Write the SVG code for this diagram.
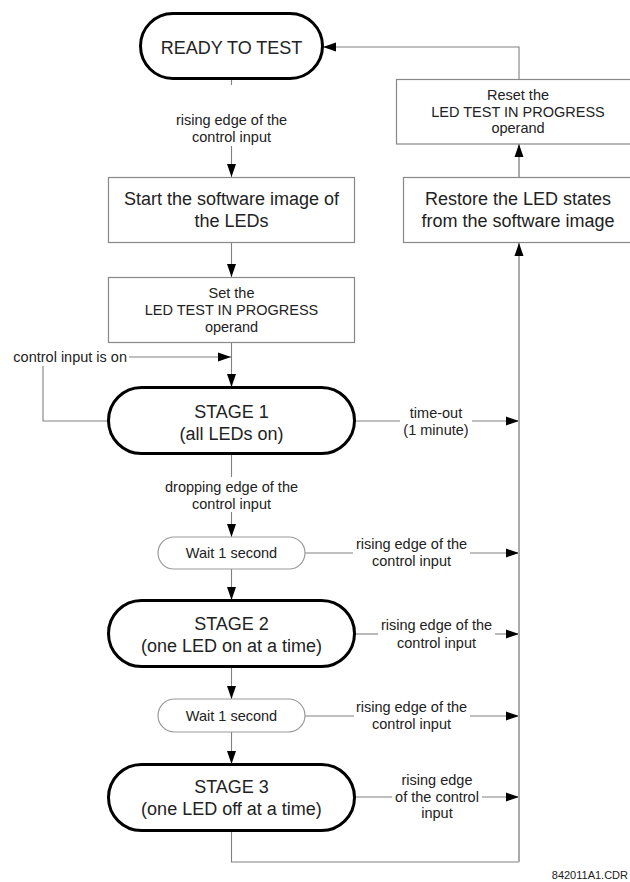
<svg xmlns="http://www.w3.org/2000/svg" width="630" height="882" viewBox="0 0 630 882">
<style>
text{font-family:"Liberation Sans",Arial,sans-serif;fill:#222;text-anchor:middle}
.big{font-size:18px}
.sm{font-size:14.5px}
.pill{fill:#fff;stroke:#000;stroke-width:3}
.box{fill:#fff;stroke:#888;stroke-width:1.2}
.wait{fill:#fff;stroke:#999;stroke-width:1.2}
.ln{fill:none;stroke:#808080;stroke-width:1.1}
.bus{fill:none;stroke:#aaa;stroke-width:2}
</style>
<defs>
<marker id="ah" markerUnits="userSpaceOnUse" markerWidth="13" markerHeight="10" refX="13" refY="5" orient="auto">
<path d="M0,0.5 L13,5 L0,9.5 z" fill="#000"/>
</marker>
</defs>
<rect width="630" height="882" fill="#fff"/>
<g id="connectors">
<line class="ln" x1="231.5" y1="79" x2="231.5" y2="85"/>
<line class="ln" x1="231.5" y1="146" x2="231.5" y2="177" marker-end="url(#ah)"/>
<line class="ln" x1="231.5" y1="243" x2="231.5" y2="277" marker-end="url(#ah)"/>
<line class="ln" x1="231.5" y1="343" x2="231.5" y2="387" marker-end="url(#ah)"/>
<line class="ln" x1="129" y1="357" x2="231" y2="357" marker-end="url(#ah)"/>
<polyline class="ln" points="43,366 43,421 108,421"/>
<line class="ln" x1="355" y1="421" x2="400" y2="421"/>
<line class="ln" x1="472" y1="421" x2="519" y2="421" marker-end="url(#ah)"/>
<line class="ln" x1="231.5" y1="454" x2="231.5" y2="477"/>
<line class="ln" x1="231.5" y1="512" x2="231.5" y2="537" marker-end="url(#ah)"/>
<line class="ln" x1="305" y1="553" x2="353" y2="553"/>
<line class="ln" x1="470" y1="553" x2="519" y2="553" marker-end="url(#ah)"/>
<line class="ln" x1="231.5" y1="569" x2="231.5" y2="600" marker-end="url(#ah)"/>
<line class="ln" x1="355" y1="634" x2="378" y2="634"/>
<line class="ln" x1="495" y1="634" x2="519" y2="634" marker-end="url(#ah)"/>
<line class="ln" x1="231.5" y1="667" x2="231.5" y2="699" marker-end="url(#ah)"/>
<line class="ln" x1="305" y1="716" x2="354" y2="716"/>
<line class="ln" x1="470" y1="716" x2="519" y2="716" marker-end="url(#ah)"/>
<line class="ln" x1="231.5" y1="732" x2="231.5" y2="764" marker-end="url(#ah)"/>
<line class="ln" x1="355" y1="797" x2="392" y2="797"/>
<line class="ln" x1="482" y1="797" x2="519" y2="797" marker-end="url(#ah)"/>
<polyline class="ln" points="231.5,831 231.5,862 519,862"/>
<polyline class="bus" points="519,862 519,243" marker-end="url(#ah)"/>
<line class="bus" x1="519" y1="177" x2="519" y2="144" marker-end="url(#ah)"/>
<polyline class="ln" points="519,79 519,47 323,47" marker-end="url(#ah)"/>
<text class="sm" x="231.5" y="125">rising edge of the</text>
<text class="sm" x="231.5" y="142">control input</text>
<text class="sm" x="127" y="362" style="text-anchor:end">control input is on</text>
<text class="sm" x="436" y="418">time-out</text>
<text class="sm" x="436" y="435">(1 minute)</text>
<text class="sm" x="231.5" y="492">dropping edge of the</text>
<text class="sm" x="231.5" y="509">control input</text>
<text class="sm" x="411.5" y="549">rising edge of the</text>
<text class="sm" x="411.5" y="566">control input</text>
<text class="sm" x="436.5" y="630">rising edge of the</text>
<text class="sm" x="436.5" y="648">control input</text>
<text class="sm" x="411.5" y="712">rising edge of the</text>
<text class="sm" x="411.5" y="729">control input</text>
<text class="sm" x="437" y="785">rising edge</text>
<text class="sm" x="437" y="802">of the control</text>
<text class="sm" x="437" y="818">input</text>
</g>
<g id="ready">
<rect class="pill" x="140.5" y="13.5" width="182" height="65" rx="32.5"/>
<text class="big" x="231.5" y="53.5">READY TO TEST</text>
</g>
<g id="start">
<rect class="box" x="108.5" y="177.5" width="246" height="65"/>
<text class="big" x="231.5" y="205">Start the software image of</text>
<text class="big" x="231.5" y="227">the LEDs</text>
</g>
<g id="set">
<rect class="box" x="108.5" y="277.5" width="246" height="65"/>
<text class="sm" x="231.5" y="298">Set the</text>
<text class="sm" x="231.5" y="315">LED TEST IN PROGRESS</text>
<text class="sm" x="231.5" y="332">operand</text>
</g>
<g id="stage1">
<rect class="pill" x="108.5" y="387.5" width="246" height="66" rx="33"/>
<text class="big" x="231.5" y="417.5">STAGE 1</text>
<text class="big" x="231.5" y="439.5">(all LEDs on)</text>
</g>
<g id="wait1">
<rect class="wait" x="158" y="537" width="147" height="32" rx="16"/>
<text class="sm" x="231.5" y="558">Wait 1 second</text>
</g>
<g id="stage2">
<rect class="pill" x="108.5" y="600.5" width="246" height="66" rx="33"/>
<text class="big" x="231.5" y="629.5">STAGE 2</text>
<text class="big" x="231.5" y="651.5">(one LED on at a time)</text>
</g>
<g id="wait2">
<rect class="wait" x="158" y="699" width="147" height="33" rx="16.5"/>
<text class="sm" x="231.5" y="720.5">Wait 1 second</text>
</g>
<g id="stage3">
<rect class="pill" x="108.5" y="764.5" width="246" height="66" rx="33"/>
<text class="big" x="231.5" y="792.5">STAGE 3</text>
<text class="big" x="231.5" y="814.5">(one LED off at a time)</text>
</g>
<g id="reset">
<rect class="box" x="396.5" y="79.5" width="250" height="64.5"/>
<text class="sm" x="518" y="100">Reset the</text>
<text class="sm" x="518" y="116.5">LED TEST IN PROGRESS</text>
<text class="sm" x="518" y="133">operand</text>
</g>
<g id="restore">
<rect class="box" x="403.5" y="177.5" width="240" height="65"/>
<text class="big" x="518" y="205">Restore the LED states</text>
<text class="big" x="518" y="227">from the software image</text>
</g>
<text x="628" y="879" style="font-size:11px;text-anchor:end">842011A1.CDR</text>
</svg>
